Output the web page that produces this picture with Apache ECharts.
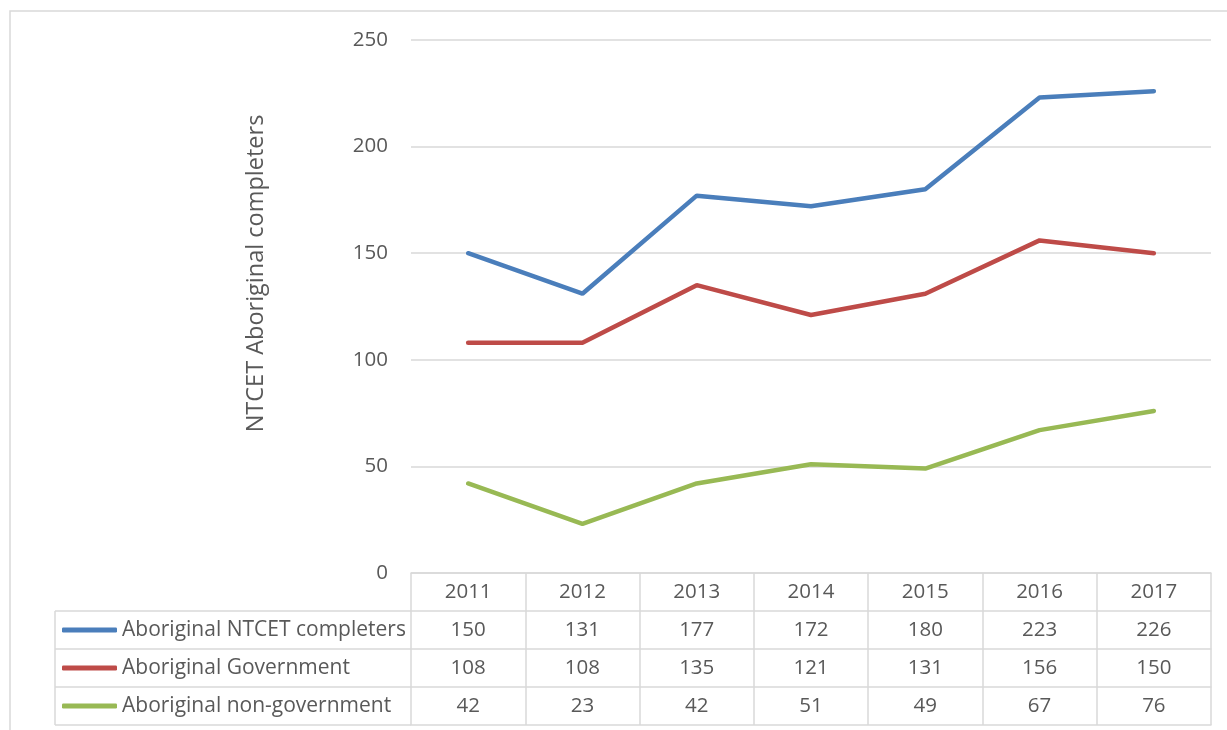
<!DOCTYPE html>
<html>
<head>
<meta charset="utf-8">
<script src="https://cdn.jsdelivr.net/npm/echarts@6/dist/echarts.min.js"></script>
<style>
html,body{margin:0;padding:0;background:#fff;}
#c{width:1227px;height:730px;}
</style>
</head>
<body>
<div id="c"></div>
<script>
const years = ['2011','2012','2013','2014','2015','2016','2017'];
const seriesNames = ['Aboriginal NTCET completers','Aboriginal Government','Aboriginal non-government'];
const ntcetCompleters = [150,131,177,172,180,223,226];
const government = [108,108,135,121,131,156,150];
const nonGovernment = [42,23,42,51,49,67,76];
const yTicks = [0,50,100,150,200,250];

const colors = ['#4A7EBB','#BE4B48','#98B954'];
const gridCol = '#d9d9d9';
const txtCol = '#595959';
const font = 'Open Sans';
const rowH = 38;
const numSize = 20.5;
const allValues = [ntcetCompleters, government, nonGovernment];

const chart = echarts.init(document.getElementById('c'), null, {renderer:'canvas'});

const xAxes = [{
  type:'category', data: years, gridIndex:0, position:'bottom', boundaryGap:true,
  axisLine:{show:true, lineStyle:{color:gridCol, width:1.5}},
  axisTick:{show:true, length:rowH, lineStyle:{color:gridCol, width:1.5}},
  axisLabel:{color:txtCol, fontFamily:font, fontSize:numSize, margin:rowH/2, verticalAlign:'middle'}
}];
allValues.forEach((vals, k) => {
  xAxes.push({
    type:'category', data: years, gridIndex:0, position:'bottom', offset: rowH*(k+1), boundaryGap:true,
    axisLine:{show:true, lineStyle:{color:gridCol, width:1.5}},
    axisTick:{show:true, length:rowH, lineStyle:{color:gridCol, width:1.5}},
    axisLabel:{color:txtCol, fontFamily:font, fontSize:numSize, margin:rowH/2, verticalAlign:'middle',
      formatter:(v, i) => String(vals[i])}
  });
});
xAxes.push({
  type:'category', data: years, gridIndex:0, position:'bottom', offset: rowH*4, boundaryGap:true,
  axisLine:{show:true, lineStyle:{color:gridCol, width:1.5}},
  axisTick:{show:false}, axisLabel:{show:false}
});

const option = {
  backgroundColor:'#fff',
  animation:false,
  grid:{left:411, right:16, top:40, bottom:157, containLabel:false},
  legend:{
    orient:'vertical', left:62, top:619.5, padding:0, itemWidth:55, itemHeight:5, itemGap:17,
    icon:'roundRect', selectedMode:false,
    textStyle:{color:txtCol, fontFamily:font, fontSize:21, lineHeight:21},
    data: seriesNames
  },
  xAxis: xAxes,
  yAxis:{
    type:'value', min:yTicks[0], max:yTicks[yTicks.length-1], interval:50,
    axisLine:{show:false}, axisTick:{show:false},
    splitLine:{lineStyle:{color:gridCol, width:1.5}},
    axisLabel:{color:txtCol, fontFamily:font, fontSize:numSize, margin:23},
    name:'NTCET Aboriginal completers', nameLocation:'middle', nameGap:143,
    nameTextStyle:{color:txtCol, fontFamily:font, fontSize:23.5, padding:[0,0,0,66]}
  },
  series: allValues.map((vals, k) => ({
    name: seriesNames[k], type:'line', data: vals, xAxisIndex:0,
    showSymbol:false, symbol:'none', smooth:false,
    lineStyle:{color:colors[k], width:4.5, cap:'round'},
    itemStyle:{color:colors[k]}
  })),
  graphic:[
    {type:'rect', silent:true, shape:{x:10, y:11, width:1400, height:900},
      style:{fill:'none', stroke:gridCol, lineWidth:1.5}},
    {type:'line', silent:true, shape:{x1:55, y1:611, x2:411, y2:611}, style:{stroke:gridCol, lineWidth:1.5}},
    {type:'line', silent:true, shape:{x1:55, y1:649, x2:411, y2:649}, style:{stroke:gridCol, lineWidth:1.5}},
    {type:'line', silent:true, shape:{x1:55, y1:687, x2:411, y2:687}, style:{stroke:gridCol, lineWidth:1.5}},
    {type:'line', silent:true, shape:{x1:55, y1:725, x2:411, y2:725}, style:{stroke:gridCol, lineWidth:1.5}},
    {type:'line', silent:true, shape:{x1:55, y1:611, x2:55, y2:725}, style:{stroke:gridCol, lineWidth:1.5}}
  ]
};
chart.setOption(option);
</script>
</body>
</html>
